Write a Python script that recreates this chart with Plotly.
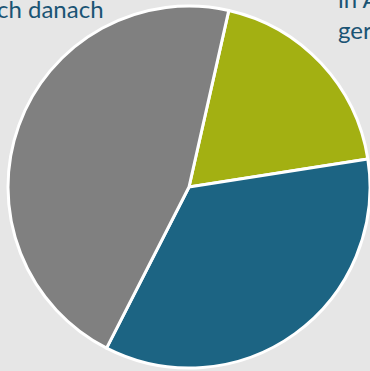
import plotly.graph_objects as go

# Share of answers per category (percent), in drawing order, clockwise
categories = ["in A ger", "Blau", "ch danach"]
values = [19, 35, 46]
colors = ["#a3b012", "#1c6483", "#808080"]

fig = go.Figure(
    go.Pie(
        labels=categories,
        values=values,
        sort=False,
        direction="clockwise",
        rotation=12.7,
        marker=dict(colors=colors, line=dict(color="#ffffff", width=3)),
        textinfo="none",
        hoverinfo="label+percent",
        showlegend=False,
    )
)

label_font = dict(family="Lato", size=24, color="#1a5474")

fig.add_annotation(
    text="ch danach", xref="paper", yref="paper",
    x=0.27, y=0.99, xanchor="right", yanchor="middle",
    showarrow=False, font=label_font,
)
fig.add_annotation(
    text="in A<br>ger", xref="paper", yref="paper",
    x=0.906, y=0.976, xanchor="left", yanchor="middle", align="left",
    showarrow=False, font=label_font,
)

fig.update_layout(
    width=370,
    height=371,
    margin=dict(l=8, r=0, t=5, b=2),
    paper_bgcolor="#e6e6e6",
    plot_bgcolor="#e6e6e6",
)

fig.write_html("out.html")
